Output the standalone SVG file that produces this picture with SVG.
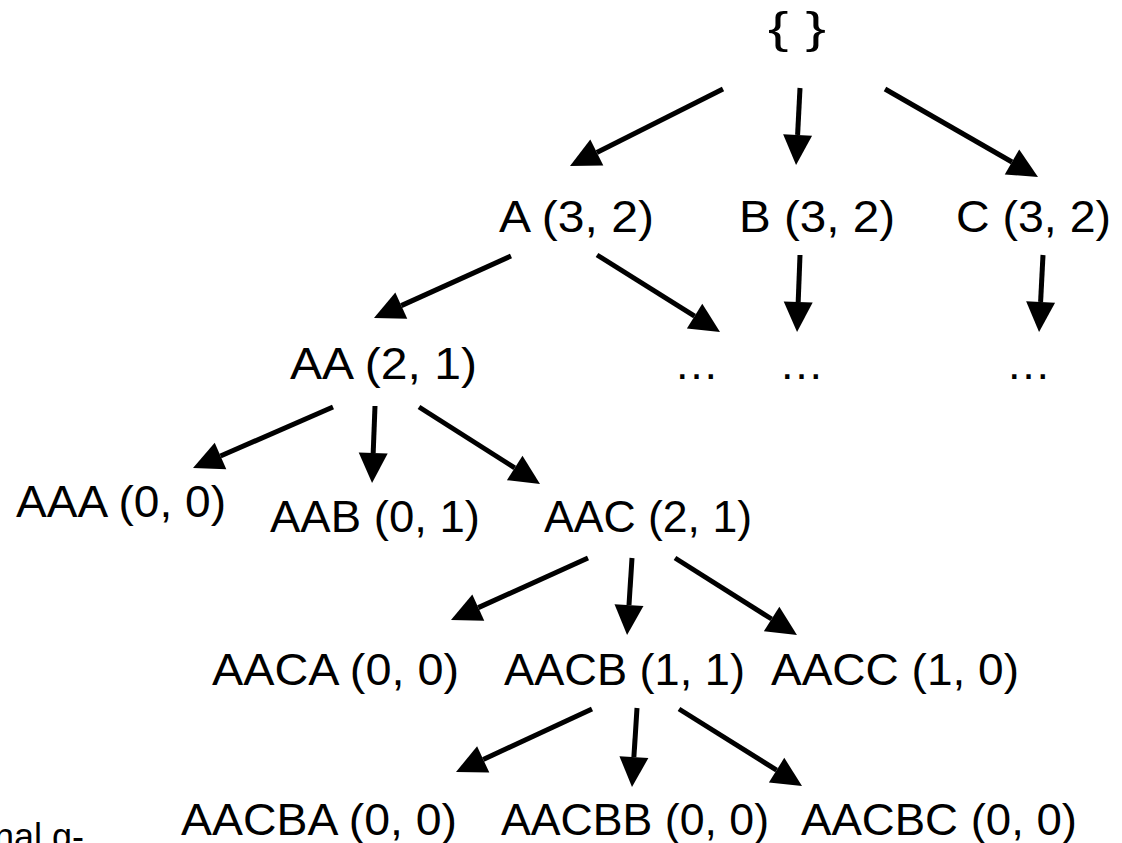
<svg xmlns="http://www.w3.org/2000/svg" width="1122" height="843" viewBox="0 0 1122 843">
<style>
text{font-family:"Liberation Sans",Arial,sans-serif;font-size:45px;fill:#000}
.c{fill:none;stroke:#000;stroke-width:5;marker-end:url(#ah)}
.note{font-size:36px}
</style>
<defs>
<marker id="ah" markerUnits="userSpaceOnUse" markerWidth="32" markerHeight="30" refX="0" refY="14.5" orient="auto" overflow="visible">
<path d="M0,0 L30,14.5 L0,29 Z" fill="#000"/>
</marker>
</defs>
<rect width="1122" height="843" fill="#fff"/>
<g id="connectors">
<path class="c" d="M723,89 L596.8,152.5"/>
<path class="c" d="M800,88 L797.6,135"/>
<path class="c" d="M885,89 L1012,162"/>
<path class="c" d="M511,256 L401.3,305.6"/>
<path class="c" d="M597,255 L694.6,316.1"/>
<path class="c" d="M800,255 L798.2,302"/>
<path class="c" d="M1043,255 L1040.6,302"/>
<path class="c" d="M333,407 L220.5,456"/>
<path class="c" d="M375,406 L373.2,453"/>
<path class="c" d="M419,407 L514.7,467.9"/>
<path class="c" d="M588,558 L478.3,607.6"/>
<path class="c" d="M632,558 L629,605.1"/>
<path class="c" d="M675,558 L771.6,619"/>
<path class="c" d="M592,709 L483.2,759.4"/>
<path class="c" d="M637,708 L633.9,757.1"/>
<path class="c" d="M679,709 L776.6,770.1"/>
</g>
<g id="root"><text x="768" y="43" textLength="58" lengthAdjust="spacingAndGlyphs">{ }</text></g>
<g id="nA"><text x="499" y="232" textLength="155" lengthAdjust="spacingAndGlyphs">A (3, 2)</text></g>
<g id="nB"><text x="739" y="232" textLength="156" lengthAdjust="spacingAndGlyphs">B (3, 2)</text></g>
<g id="nC"><text x="956" y="232" textLength="155" lengthAdjust="spacingAndGlyphs">C (3, 2)</text></g>
<g id="nAA"><text x="290" y="379" textLength="187" lengthAdjust="spacingAndGlyphs">AA (2, 1)</text></g>
<g id="more1"><text x="674" y="379">…</text></g>
<g id="more2"><text x="779" y="379">…</text></g>
<g id="more3"><text x="1006" y="379">…</text></g>
<g id="nAAA"><text x="16" y="517" textLength="210" lengthAdjust="spacingAndGlyphs">AAA (0, 0)</text></g>
<g id="nAAB"><text x="270" y="532" textLength="210" lengthAdjust="spacingAndGlyphs">AAB (0, 1)</text></g>
<g id="nAAC"><text x="544" y="532" textLength="208" lengthAdjust="spacingAndGlyphs">AAC (2, 1)</text></g>
<g id="nAACA"><text x="212" y="685" textLength="247" lengthAdjust="spacingAndGlyphs">AACA (0, 0)</text></g>
<g id="nAACB"><text x="504" y="685" textLength="241" lengthAdjust="spacingAndGlyphs">AACB (1, 1)</text></g>
<g id="nAACC"><text x="771" y="685" textLength="248" lengthAdjust="spacingAndGlyphs">AACC (1, 0)</text></g>
<g id="nAACBA"><text x="181" y="835" textLength="276" lengthAdjust="spacingAndGlyphs">AACBA (0, 0)</text></g>
<g id="nAACBB"><text x="501" y="835" textLength="268" lengthAdjust="spacingAndGlyphs">AACBB (0, 0)</text></g>
<g id="nAACBC"><text x="801" y="835" textLength="276" lengthAdjust="spacingAndGlyphs">AACBC (0, 0)</text></g>
<g id="caption"><text class="note" x="-6" y="849">nal g-</text></g>
</svg>
